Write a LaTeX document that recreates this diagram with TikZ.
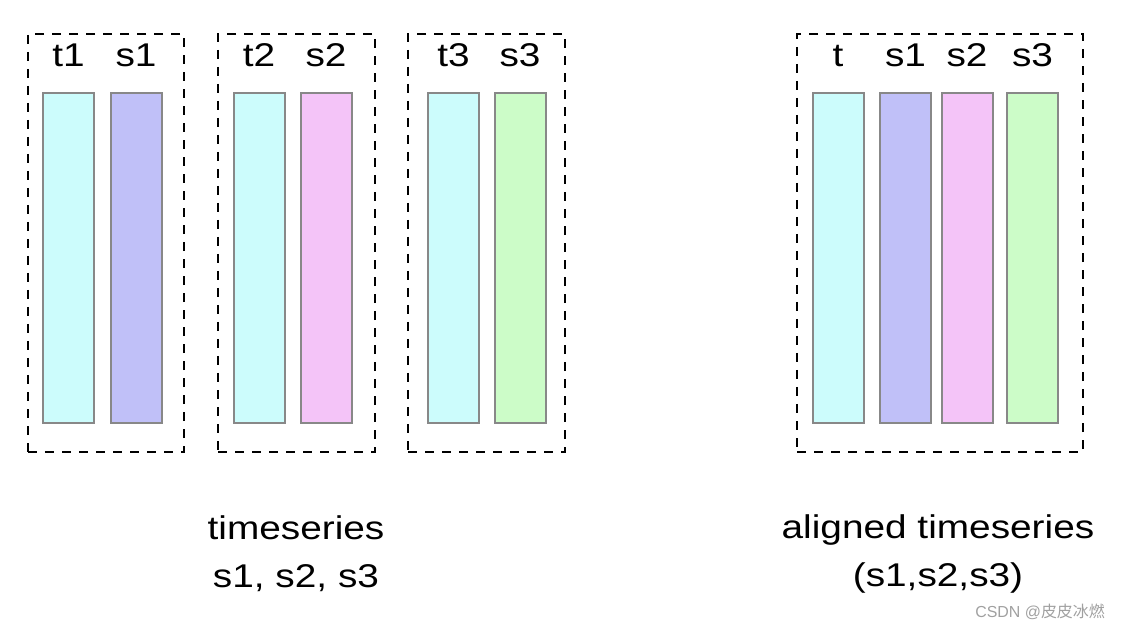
\documentclass[tikz,border=0pt]{standalone}
\usepackage{fontspec}
\setmainfont[FakeStretch=1.18]{Liberation Sans}
\newfontfamily\wmfont{Liberation Sans}
\newfontfamily\cjk{Noto Sans CJK SC}
\usetikzlibrary{positioning}
\definecolor{tcol}{RGB}{204,252,252}
\definecolor{sonecol}{RGB}{192,192,248}
\definecolor{stwocol}{RGB}{244,196,248}
\definecolor{sthreecol}{RGB}{204,252,200}
\definecolor{barline}{RGB}{136,136,136}
\definecolor{wmgray}{RGB}{160,160,160}
\tikzset{
  bar/.style={draw=barline,line width=2bp,minimum width=51bp,minimum height=330bp,inner sep=0pt},
  grp/.style={draw,dash pattern=on 9bp off 8bp,line width=2bp,inner sep=0pt,minimum height=418bp},
  lbl/.style={inner sep=0pt,text depth=0pt,font=\fontsize{33}{48}\selectfont},
  caption/.style={inner sep=0pt,align=center,font=\fontsize{33}{48}\selectfont}
}
\begin{document}
\begin{tikzpicture}[x=1bp,y=-1bp,node distance=25bp]
    \useasboundingbox (0,0) rectangle (1122,628);
    \node[grp,minimum width=156bp] (g1) at (106,243) {};
    \node[grp,minimum width=157bp] (g2) at (296.5,243) {};
    \node[grp,minimum width=157bp] (g3) at (486.5,243) {};
    \node[grp,minimum width=286bp] (g4) at (940,243) {};
    \node[bar,fill=tcol] (t1) at (68.5,258) {};
    \node[bar,fill=sonecol] (s1) at (136,258) {};
    \node[bar,fill=tcol] (t2) at (259,258) {};
    \node[bar,fill=stwocol] (s2) at (326,258) {};
    \node[bar,fill=tcol] (t3) at (453.5,258) {};
    \node[bar,fill=sthreecol] (s3) at (520,258) {};
    \node[bar,fill=tcol] (ta) at (838,258) {};
    \node[bar,fill=sonecol] (s1a) at (905.5,258) {};
    \node[bar,fill=stwocol] (s2a) at (967,258) {};
    \node[bar,fill=sthreecol] (s3a) at (1032.5,258) {};
    \node[lbl,above=of t1] (t1l) {t1};
    \node[lbl,above=of s1] (s1l) {s1};
    \node[lbl,above=of t2] (t2l) {t2};
    \node[lbl,above=of s2] (s2l) {s2};
    \node[lbl,above=of t3] (t3l) {t3};
    \node[lbl,above=of s3] (s3l) {s3};
    \node[lbl,above=of ta] (tal) {t};
    \node[lbl,above=of s1a] (s1al) {s1};
    \node[lbl,above=of s2a] (s2al) {s2};
    \node[lbl,above=of s3a] (s3al) {s3};
    \node[caption] (capl) at (296,554) {timeseries\\s1, s2, s3};
    \node[caption] (capr) at (938,554) {aligned timeseries\\(s1,s2,s3)};
    \node[inner sep=0pt,anchor=base east,text=wmgray,font=\wmfont\fontsize{16}{16}\selectfont] (wm) at (1105,617) {CSDN @{\cjk 皮皮冰燃}};
\end{tikzpicture}
\end{document}
